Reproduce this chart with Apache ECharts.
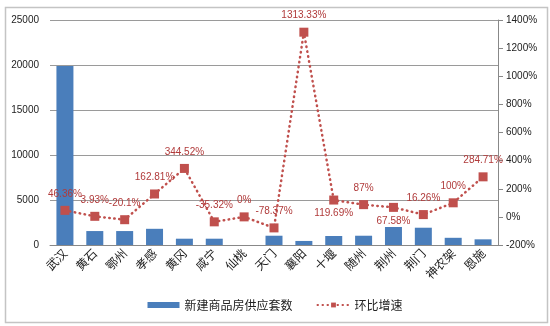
<!DOCTYPE html>
<html>
<head>
<meta charset="utf-8">
<script src="https://cdn.jsdelivr.net/npm/echarts@6/dist/echarts.min.js"></script>
<style>
html,body{margin:0;padding:0;background:#fff;}
#c{width:550px;height:326px;}
</style>
</head>
<body>
<div id="c"></div>
<script>
const categories = ['武汉','黄石','鄂州','孝感','黄冈','咸宁','仙桃','天门','襄阳','十堰','随州','荆州','荆门','神农架','恩施'];
const supplyUnits = [19900, 1550, 1550, 1800, 700, 700, 0, 1030, 450, 1000, 1030, 2000, 1920, 800, 630];
const growthPct = [46.36, 3.93, -20.1, 162.81, 344.52, -35.32, 0, -78.37, 1313.33, 119.69, 87, 67.58, 16.26, 100, 284.71];
const leftTicks = {min: 0, max: 25000, interval: 5000};
const rightTicks = {min: -200, max: 1400, interval: 200};
const seriesNames = ['新建商品房供应套数', '环比增速'];

const labelBelow = {9: true, 11: true};
const lineData = growthPct.map((v, i) => labelBelow[i] ? {value: v, label: {position: 'bottom', distance: 4}} : v);

const chart = echarts.init(document.getElementById('c'));
chart.setOption({
  animation: false,
  backgroundColor: '#fff',
  textStyle: {fontFamily: 'Liberation Sans, Arial, sans-serif'},
  graphic: [{
    type: 'rect', left: 3, top: 5,
    shape: {width: 542, height: 315},
    style: {fill: 'none', stroke: '#c4c4c4', lineWidth: 1.5}
  }],
  grid: {left: 50, right: 52, top: 20, bottom: 81},
  legend: {
    bottom: 10, left: 'center', itemGap: 24,
    textStyle: {fontSize: 12, color: '#222', fontFamily: 'Noto Sans CJK SC'},
    data: [
      {name: seriesNames[0], icon: 'rect', itemStyle: {color: '#4A7EBB'}},
      {name: seriesNames[1]}
    ],
    itemWidth: 32, itemHeight: 6
  },
  xAxis: {
    type: 'category', data: categories,
    axisLine: {lineStyle: {color: '#888', width: 1}},
    axisTick: {show: false},
    axisLabel: {rotate: 45, fontSize: 12, color: '#222', margin: 6, fontFamily: 'Noto Sans CJK SC', interval: 0}
  },
  yAxis: [{
    type: 'value', min: leftTicks.min, max: leftTicks.max, interval: leftTicks.interval,
    axisLine: {show: false}, axisTick: {show: false},
    axisLabel: {fontSize: 10, color: '#222', margin: 11, formatter: v => String(v)},
    splitLine: {lineStyle: {color: '#9a9a9a', width: 1}}
  }, {
    type: 'value', min: rightTicks.min, max: rightTicks.max, interval: rightTicks.interval,
    position: 'right',
    axisLine: {show: true, lineStyle: {color: '#888', width: 1}},
    axisTick: {show: true, inside: false, length: 5, lineStyle: {color: '#888'}},
    axisLabel: {fontSize: 10, color: '#222', margin: 8, formatter: v => String(v) + '%'},
    splitLine: {show: false}
  }],
  series: [{
    name: seriesNames[0], type: 'bar', data: supplyUnits,
    barWidth: 17,
    itemStyle: {color: '#4A7EBB'}
  }, {
    name: seriesNames[1], type: 'line', yAxisIndex: 1, data: lineData,
    symbol: 'rect', symbolSize: 9,
    itemStyle: {color: '#C0504D'},
    lineStyle: {color: '#C0504D', width: 2.5, type: [0.5, 4.5], cap: 'round'},
    label: {show: true, position: 'top', distance: 7, fontSize: 10, color: '#B03A3A',
      formatter: p => p.value + '%'}
  }]
});
</script>
</body>
</html>
